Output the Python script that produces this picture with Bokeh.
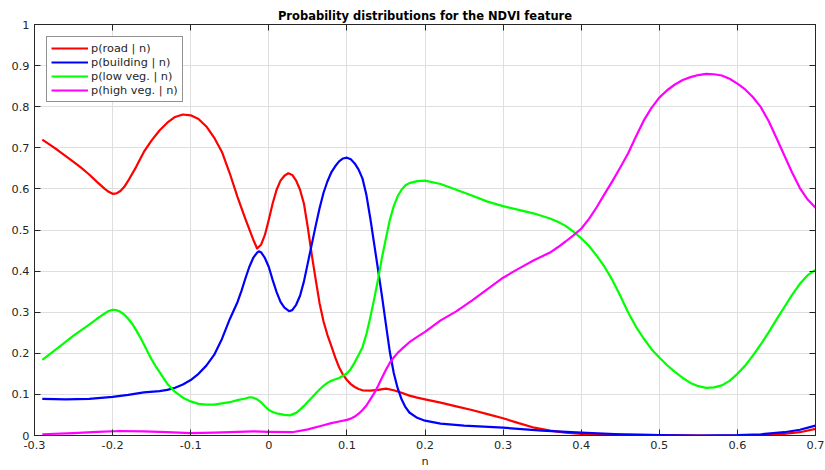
from bokeh.plotting import figure
from bokeh.models import LinearAxis, FixedTicker, Legend, LegendItem, Range1d
from bokeh.embed import file_html
from bokeh.resources import INLINE

title_text = "Probability distributions for the NDVI feature"
x_label = "n"
x_ticks = [-0.3, -0.2, -0.1, 0, 0.1, 0.2, 0.3, 0.4, 0.5, 0.6, 0.7]
x_tick_labels = ["-0.3", "-0.2", "-0.1", "0", "0.1", "0.2", "0.3", "0.4", "0.5", "0.6", "0.7"]
y_ticks = [0, 0.1, 0.2, 0.3, 0.4, 0.5, 0.6, 0.7, 0.8, 0.9, 1]
y_tick_labels = ["0", "0.1", "0.2", "0.3", "0.4", "0.5", "0.6", "0.7", "0.8", "0.9", "1"]

series_names = ["p(road | n)", "p(building | n)", "p(low veg. | n)", "p(high veg. | n)"]
series_colors = ["#ff0000", "#0000ff", "#00ff00", "#ff00ff"]

road_x = [-0.29, -0.28, -0.27, -0.26, -0.25, -0.24, -0.23, -0.22, -0.21, -0.205, -0.20, -0.195,
          -0.19, -0.185, -0.18, -0.17, -0.16, -0.15, -0.14, -0.13, -0.12, -0.11, -0.10, -0.09,
          -0.08, -0.07, -0.06, -0.05, -0.04, -0.03, -0.02, -0.015, -0.01, -0.005, 0.00, 0.005,
          0.01, 0.015, 0.02, 0.025, 0.03, 0.035, 0.04, 0.045, 0.05, 0.055, 0.06, 0.065, 0.07,
          0.075, 0.08, 0.085, 0.09, 0.095, 0.10, 0.105, 0.11, 0.115, 0.12, 0.13, 0.14, 0.15,
          0.16, 0.17, 0.18, 0.19, 0.20, 0.22, 0.24, 0.26, 0.28, 0.30, 0.32, 0.34, 0.36, 0.38,
          0.40, 0.44, 0.50, 0.56, 0.60, 0.63, 0.66, 0.68, 0.70]
road_y = [0.720, 0.707, 0.694, 0.680, 0.666, 0.651, 0.635, 0.617, 0.600, 0.593, 0.588, 0.589,
          0.595, 0.605, 0.620, 0.653, 0.690, 0.718, 0.742, 0.761, 0.775, 0.781, 0.779, 0.770,
          0.752, 0.725, 0.690, 0.638, 0.580, 0.527, 0.477, 0.455, 0.464, 0.488, 0.525, 0.565,
          0.598, 0.620, 0.632, 0.638, 0.634, 0.620, 0.598, 0.564, 0.505, 0.440, 0.380, 0.322, 0.278,
          0.245, 0.218, 0.190, 0.166, 0.148, 0.135, 0.125, 0.118, 0.113, 0.110, 0.109, 0.111, 0.114,
          0.110, 0.104, 0.097, 0.092, 0.088, 0.080, 0.071, 0.062, 0.052, 0.042, 0.030, 0.019, 0.012, 0.007,
          0.004, 0.002, 0.001, 0.000, 0.000, 0.001, 0.004, 0.008, 0.016]

building_x = [-0.29, -0.26, -0.23, -0.20, -0.18, -0.16, -0.14, -0.13, -0.12, -0.11, -0.10, -0.09,
              -0.08, -0.07, -0.06, -0.05, -0.04, -0.035, -0.03, -0.025, -0.02, -0.015, -0.0128,
              -0.01, -0.005, 0.00, 0.005, 0.01, 0.015, 0.02, 0.026, 0.03, 0.035, 0.04, 0.045, 0.05,
              0.055, 0.06, 0.065, 0.07, 0.075, 0.08, 0.085, 0.09, 0.095, 0.10, 0.105, 0.11, 0.115,
              0.12, 0.125, 0.13, 0.135, 0.14, 0.145, 0.15, 0.155, 0.16, 0.165, 0.17, 0.175, 0.18,
              0.19, 0.20, 0.22, 0.25, 0.30, 0.35, 0.40, 0.45, 0.50, 0.55, 0.60, 0.63, 0.66, 0.68, 0.70]
building_y = [0.089, 0.088, 0.089, 0.094, 0.099, 0.105, 0.108, 0.111, 0.116, 0.124, 0.135, 0.150,
              0.170, 0.196, 0.235, 0.283, 0.325, 0.352, 0.382, 0.410, 0.432, 0.445, 0.448,
              0.446, 0.432, 0.410, 0.378, 0.349, 0.325, 0.311, 0.3025, 0.305, 0.318, 0.340, 0.375, 0.420,
              0.465, 0.510, 0.553, 0.590, 0.618, 0.640, 0.655, 0.667, 0.674, 0.676, 0.672, 0.662, 0.647,
              0.625, 0.585, 0.528, 0.465, 0.402, 0.338, 0.270, 0.203, 0.152, 0.115, 0.088, 0.069, 0.056,
              0.043, 0.036, 0.029, 0.024, 0.019, 0.012, 0.007, 0.003, 0.001, 0.000, 0.001, 0.003, 0.008, 0.014, 0.024]

lowveg_x = [-0.29, -0.27, -0.25, -0.23, -0.22, -0.21, -0.205, -0.20, -0.195, -0.19, -0.185, -0.18,
            -0.175, -0.17, -0.165, -0.16, -0.155, -0.15, -0.145, -0.14, -0.135, -0.13, -0.12, -0.11,
            -0.10, -0.09, -0.08, -0.07, -0.06, -0.05, -0.04, -0.03, -0.025, -0.02, -0.015, -0.01,
            -0.005, 0.00, 0.005, 0.01, 0.02, 0.027, 0.035, 0.04, 0.045, 0.05, 0.055, 0.06, 0.065,
            0.07, 0.075, 0.08, 0.09, 0.10, 0.105, 0.11, 0.115, 0.12, 0.125, 0.13, 0.135, 0.14,
            0.145, 0.15, 0.155, 0.16, 0.165, 0.17, 0.175, 0.18, 0.19, 0.20, 0.22, 0.24, 0.26, 0.28,
            0.30, 0.32, 0.34, 0.36, 0.37, 0.38, 0.39, 0.40, 0.41, 0.42, 0.43, 0.44, 0.45, 0.46,
            0.47, 0.48, 0.49, 0.50, 0.51, 0.52, 0.53, 0.54, 0.55, 0.56, 0.57, 0.58, 0.59, 0.60,
            0.61, 0.62, 0.63, 0.64, 0.65, 0.66, 0.67, 0.68, 0.69, 0.70]
lowveg_y = [0.184, 0.213, 0.243, 0.270, 0.284, 0.297, 0.303, 0.306, 0.305, 0.301, 0.294, 0.284,
            0.272, 0.257, 0.240, 0.222, 0.203, 0.185, 0.169, 0.155, 0.140, 0.126, 0.106, 0.092,
            0.083, 0.077, 0.075, 0.075, 0.078, 0.081, 0.086, 0.090, 0.093, 0.092, 0.088, 0.081,
            0.071, 0.062, 0.057, 0.054, 0.050, 0.049, 0.055, 0.063, 0.072, 0.082, 0.092, 0.102, 0.112,
            0.121, 0.128, 0.133, 0.140, 0.151, 0.162, 0.178, 0.196, 0.215, 0.247, 0.288, 0.333, 0.381,
            0.434, 0.480, 0.525, 0.558, 0.582, 0.598, 0.609, 0.614, 0.619, 0.620, 0.612, 0.598, 0.584, 0.569,
            0.558, 0.549, 0.540, 0.528, 0.520, 0.510, 0.496, 0.480, 0.461, 0.437, 0.410, 0.378, 0.340, 0.300,
            0.265, 0.236, 0.210, 0.190, 0.171, 0.155, 0.140, 0.128, 0.120, 0.116, 0.117, 0.122, 0.133, 0.150,
            0.170, 0.195, 0.222, 0.251, 0.282, 0.312, 0.342, 0.369, 0.390, 0.403]

highveg_x = [-0.29, -0.25, -0.22, -0.19, -0.16, -0.13, -0.10, -0.07, -0.04, -0.02, 0.00, 0.03,
             0.05, 0.07, 0.08, 0.09, 0.10, 0.105, 0.11, 0.115, 0.12, 0.125, 0.13, 0.135, 0.14,
             0.145, 0.15, 0.155, 0.16, 0.165, 0.17, 0.18, 0.19, 0.20, 0.22, 0.24, 0.26, 0.28,
             0.30, 0.32, 0.34, 0.36, 0.37, 0.38, 0.39, 0.40, 0.41, 0.42, 0.43, 0.44, 0.45, 0.46,
             0.47, 0.48, 0.49, 0.50, 0.51, 0.52, 0.53, 0.54, 0.55, 0.56, 0.57, 0.58, 0.59, 0.60,
             0.61, 0.62, 0.63, 0.64, 0.65, 0.66, 0.67, 0.68, 0.69, 0.70]
highveg_y = [0.003, 0.006, 0.009, 0.011, 0.010, 0.008, 0.006, 0.007, 0.009, 0.010, 0.009, 0.008,
             0.015, 0.025, 0.030, 0.034, 0.038, 0.041, 0.046, 0.053, 0.062, 0.073, 0.088, 0.103, 0.121,
             0.141, 0.160, 0.177, 0.190, 0.201, 0.210, 0.227, 0.240, 0.252, 0.280, 0.302, 0.328, 0.356,
             0.384, 0.406, 0.427, 0.445, 0.458, 0.472, 0.487, 0.503, 0.527, 0.556, 0.588, 0.619, 0.652, 0.686,
             0.727, 0.766, 0.797, 0.822, 0.840, 0.854, 0.865, 0.872, 0.877, 0.880, 0.879, 0.876, 0.868, 0.856,
             0.842, 0.823, 0.799, 0.765, 0.724, 0.682, 0.640, 0.602, 0.574, 0.554]

FONT = "DejaVu Sans"
DARK = "#262626"
GRID = "#dfdfdf"

p = figure(width=825, height=470, frame_width=781, frame_height=411,
           x_range=Range1d(-0.3, 0.7), y_range=Range1d(0, 1),
           output_backend="svg", toolbar_location=None,
           min_border_left=34, min_border_right=10, min_border_top=24, min_border_bottom=35,
           title=title_text, background_fill_color="white", border_fill_color="white")

p.title.align = "center"
p.title.text_font = FONT
p.title.text_font_size = "11.5px"
p.title.text_font_style = "bold"
p.title.text_color = "black"
p.title.standoff = 3
p.title.offset = 0

p.outline_line_color = DARK
p.outline_line_width = 1

def style_axis(ax, ticks, labels, show_labels):
    ax.ticker = FixedTicker(ticks=ticks)
    ax.minor_tick_line_color = None
    ax.major_tick_in = 6
    ax.major_tick_out = 0
    ax.major_tick_line_color = DARK
    ax.axis_line_color = DARK
    ax.major_label_text_font = FONT
    if show_labels:
        ax.major_label_overrides = {t: l for t, l in zip(ticks, labels)}
        ax.major_label_text_color = DARK
        ax.major_label_text_font_size = "11.3px"
        ax.major_label_standoff = 5
    else:
        ax.major_label_text_color = None
        ax.major_label_text_alpha = 0
        ax.major_label_text_font_size = "1px"
        ax.major_label_standoff = 0

style_axis(p.xaxis[0], x_ticks, x_tick_labels, True)
style_axis(p.yaxis[0], y_ticks, y_tick_labels, True)
p.xaxis[0].axis_label = x_label
p.xaxis[0].axis_label_text_font = FONT
p.xaxis[0].axis_label_text_font_size = "11.3px"
p.xaxis[0].axis_label_text_font_style = "normal"
p.xaxis[0].axis_label_text_color = DARK
p.xaxis[0].axis_label_standoff = 3

top_axis = LinearAxis()
style_axis(top_axis, x_ticks, x_tick_labels, False)
p.add_layout(top_axis, "above")
right_axis = LinearAxis()
style_axis(right_axis, y_ticks, y_tick_labels, False)
p.add_layout(right_axis, "right")

p.xgrid.ticker = FixedTicker(ticks=x_ticks)
p.ygrid.ticker = FixedTicker(ticks=y_ticks)
p.grid.grid_line_color = GRID
p.grid.grid_line_width = 1

xs = [road_x, building_x, lowveg_x, highveg_x]
ys = [road_y, building_y, lowveg_y, highveg_y]
items = []
for xv, yv, name, col in zip(xs, ys, series_names, series_colors):
    r = p.line(xv, yv, line_color=col, line_width=2.2, line_join="round")
    items.append(LegendItem(label=name, renderers=[r]))

legend = Legend(items=items, location="top_left")
legend.margin = 12
legend.padding = 4
legend.spacing = 0
legend.label_height = 14
legend.glyph_height = 14
legend.glyph_width = 37
legend.label_standoff = 3
legend.label_text_font = FONT
legend.label_text_font_size = "11.3px"
legend.label_text_color = DARK
legend.border_line_color = DARK
legend.border_line_width = 1
legend.background_fill_color = "white"
legend.background_fill_alpha = 1
p.add_layout(legend)

open("out.html", "w").write(file_html(p, INLINE))
